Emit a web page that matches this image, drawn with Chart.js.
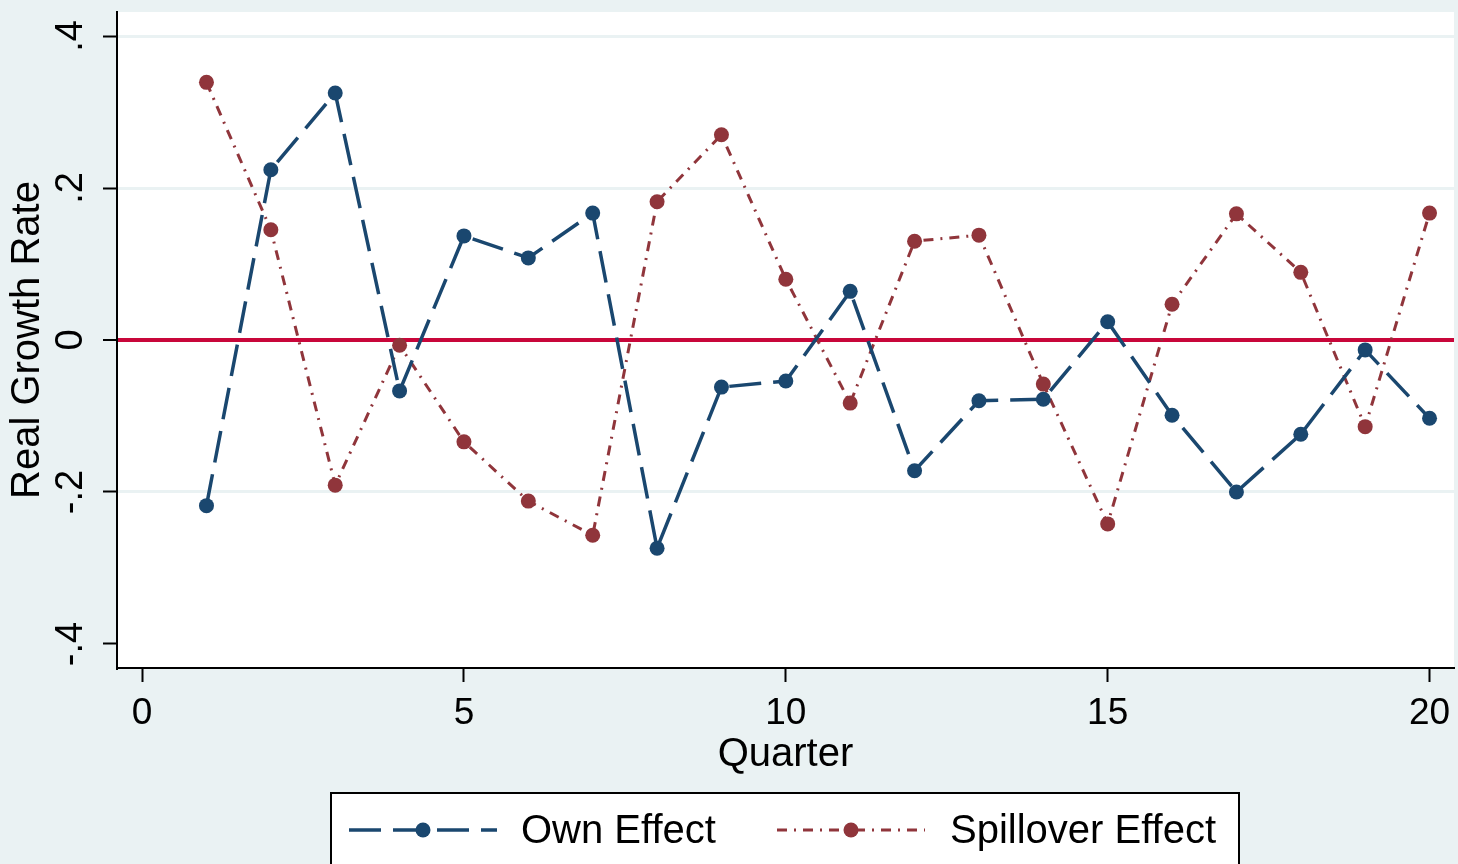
<!DOCTYPE html>
<html>
<head>
<meta charset="utf-8">
<title>Real Growth Rate by Quarter</title>
<script src="https://cdn.jsdelivr.net/npm/chart.js@4.4.1/dist/chart.umd.min.js"></script>
<style>
  html, body { margin: 0; padding: 0; background: #eaf2f3; }
  #wrap { width: 1458px; height: 864px; position: relative; }
  canvas { display: block; }
</style>
</head>
<body>
<div id="wrap"><canvas id="chart" width="1458" height="864"></canvas></div>
<script>
// Quarterly responses of the real growth rate
const quarters = [1, 2, 3, 4, 5, 6, 7, 8, 9, 10, 11, 12, 13, 14, 15, 16, 17, 18, 19, 20];
const ownEffect = [-0.218, 0.224, 0.325, -0.067, 0.137, 0.108, 0.167, -0.274, -0.062, -0.054,
                   0.064, -0.172, -0.080, -0.078, 0.024, -0.099, -0.200, -0.124, -0.013, -0.103];
const spilloverEffect = [0.339, 0.145, -0.191, -0.007, -0.134, -0.212, -0.257, 0.182, 0.270, 0.080,
                         -0.083, 0.130, 0.138, -0.058, -0.242, 0.047, 0.166, 0.089, -0.114, 0.167];
const seriesNames = ['Own Effect', 'Spillover Effect'];

const xTickValues = [0, 5, 10, 15, 20];
const xTickLabels = ['0', '5', '10', '15', '20'];
const yTickValues = [-0.4, -0.2, 0, 0.2, 0.4];
const yTickLabels = ['-.4', '-.2', '0', '.2', '.4'];

const FONT = '"Liberation Sans", Arial, Helvetica, sans-serif';
const BG = '#eaf2f3';
const NAVY = '#1a476f';
const MAROON = '#90353b';
const ZERO_LINE = '#c8063a';

const toPoints = ys => quarters.map((q, i) => ({ x: q, y: ys[i] }));

// Outer background and white plot region
const panelPlugin = {
  id: 'panel',
  beforeDraw(chart) {
    const { ctx, chartArea: a } = chart;
    ctx.save();
    ctx.fillStyle = BG;
    ctx.fillRect(0, 0, chart.width, chart.height);
    ctx.fillStyle = '#ffffff';
    ctx.fillRect(a.left, a.top, a.right - a.left, a.bottom - a.top);
    ctx.restore();
  }
};

// Boxed legend below the plot: line sample with a marker in the middle, then the label
const boxLegendPlugin = {
  id: 'boxLegend',
  afterDraw(chart) {
    const { ctx } = chart;
    const box = { x: 331, y: 793, w: 908, h: 110 };
    ctx.save();
    ctx.fillStyle = '#ffffff';
    ctx.fillRect(box.x, box.y, box.w, box.h);
    ctx.strokeStyle = '#000000';
    ctx.lineWidth = 2;
    ctx.strokeRect(box.x, box.y, box.w, box.h);

    const items = [
      { x0: 349, x1: 497, tx: 521 },
      { x0: 777, x1: 925, tx: 950 }
    ];
    const rowY = 830;
    chart.data.datasets.forEach((ds, i) => {
      const it = items[i];
      ctx.save();
      ctx.strokeStyle = ds.borderColor;
      ctx.lineWidth = ds.borderWidth;
      ctx.lineCap = 'butt';
      ctx.setLineDash(ds.borderDash || []);
      ctx.beginPath();
      ctx.moveTo(it.x0, rowY);
      ctx.lineTo(it.x1, rowY);
      ctx.stroke();
      ctx.setLineDash([]);
      ctx.fillStyle = ds.pointBackgroundColor;
      ctx.beginPath();
      ctx.arc((it.x0 + it.x1) / 2, rowY, ds.pointRadius, 0, Math.PI * 2);
      ctx.fill();
      ctx.restore();

      ctx.fillStyle = '#000000';
      ctx.font = '40px ' + FONT;
      ctx.textAlign = 'left';
      ctx.textBaseline = 'middle';
      ctx.fillText(ds.label, it.tx, rowY + 2);
    });
    ctx.restore();
  }
};

const chart = new Chart(document.getElementById('chart'), {
  type: 'line',
  data: {
    datasets: [
      {
        label: seriesNames[0],
        data: toPoints(ownEffect),
        borderColor: NAVY,
        backgroundColor: NAVY,
        pointBackgroundColor: NAVY,
        pointBorderWidth: 0,
        pointRadius: 7.5,
        borderWidth: 3.5,
        borderDash: [32, 12],
        borderCapStyle: 'butt',
        tension: 0,
        fill: false
      },
      {
        label: seriesNames[1],
        data: toPoints(spilloverEffect),
        borderColor: MAROON,
        backgroundColor: MAROON,
        pointBackgroundColor: MAROON,
        pointBorderWidth: 0,
        pointRadius: 7.5,
        borderWidth: 3,
        borderDash: [10, 7, 2, 7],
        borderCapStyle: 'butt',
        tension: 0,
        fill: false
      }
    ]
  },
  options: {
    responsive: false,
    animation: false,
    devicePixelRatio: 1,
    layout: { autoPadding: false, padding: { top: 12, right: 4, bottom: 0, left: 0 } },
    plugins: {
      legend: { display: false },
      tooltip: { enabled: false },
      title: { display: false }
    },
    scales: {
      x: {
        type: 'linear',
        min: -0.39,
        max: 20.38,
        afterBuildTicks(scale) { scale.ticks = xTickValues.map(v => ({ value: v })); },
        afterFit(scale) {
          scale.height = 196;
          scale.paddingLeft = 0; scale.paddingRight = 0;
        },
        ticks: {
          color: '#000000',
          font: { family: FONT, size: 37 },
          padding: 10,
          maxRotation: 0,
          autoSkip: false,
          callback: (v) => xTickLabels[xTickValues.indexOf(v)]
        },
        grid: {
          drawOnChartArea: false,
          drawTicks: true,
          tickLength: 14,
          tickColor: '#000000',
          tickWidth: 2
        },
        border: { display: true, color: '#000000', width: 2 },
        title: {
          display: true,
          text: 'Quarter',
          color: '#000000',
          font: { family: FONT, size: 40 },
          padding: { top: 0, bottom: 85 }
        }
      },
      y: {
        type: 'linear',
        min: -0.4316,
        max: 0.4316,
        afterBuildTicks(scale) { scale.ticks = yTickValues.map(v => ({ value: v })); },
        afterFit(scale) {
          scale.width = 117;
          scale.paddingTop = 0; scale.paddingBottom = 0;
        },
        ticks: {
          color: '#000000',
          font: { family: FONT, size: 38 },
          padding: 9,
          minRotation: 90,
          maxRotation: 90,
          crossAlign: 'center',
          autoSkip: false,
          callback: (v) => yTickLabels[yTickValues.indexOf(v)]
        },
        grid: {
          drawOnChartArea: true,
          drawTicks: true,
          tickLength: 14,
          tickColor: '#000000',
          tickWidth: 2,
          color: (c) => {
            const v = c.tick ? c.tick.value : null;
            if (v === 0) return ZERO_LINE;
            if (v === -0.4) return 'rgba(0,0,0,0)';
            return BG;
          },
          lineWidth: (c) => (c.tick && c.tick.value === 0 ? 4 : 3)
        },
        border: { display: true, color: '#000000', width: 2 },
        title: {
          display: true,
          text: 'Real Growth Rate',
          color: '#000000',
          font: { family: FONT, size: 40 },
          padding: { top: 4, bottom: 0 }
        }
      }
    }
  },
  plugins: [panelPlugin, boxLegendPlugin]
});
</script>
</body>
</html>
